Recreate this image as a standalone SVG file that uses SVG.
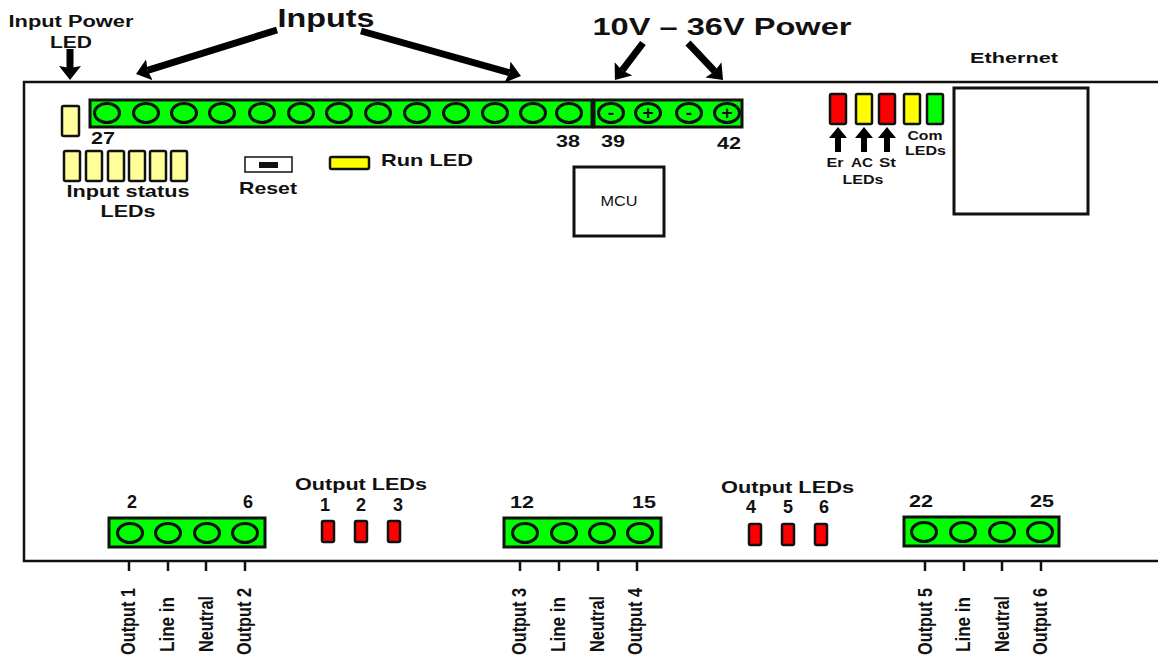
<svg xmlns="http://www.w3.org/2000/svg" width="1158" height="659" viewBox="0 0 1158 659">
<style>
text{font-family:"Liberation Sans",Arial,sans-serif;font-weight:700;fill:#111;text-anchor:middle}
.strip{fill:#00ff00;stroke:#111;stroke-width:3}
.hole ellipse{fill:#00ff00;stroke:#111;stroke-width:3;rx:12.5px;ry:9.5px}
.led{stroke:#111;stroke-width:2.5}
.pale{fill:#ffff99}.yel{fill:#ffff00}.red{fill:#ff0000}.grn{fill:#00ff00}
.box{fill:#fff;stroke:#111;stroke-width:3}
.wire{stroke:#111;stroke-width:2.5;fill:none}
.ar{stroke:#000;stroke-width:7;fill:none;marker-end:url(#ah)}
.ars{stroke:#000;stroke-width:6;fill:none;marker-end:url(#ahs)}
.n{font-size:17px}.s{font-size:13px}.v{font-size:20px}
.sign{font-size:19px}
</style>
<defs>
<marker id="ah" markerUnits="userSpaceOnUse" markerWidth="18" markerHeight="24" refX="2" refY="11" orient="auto"><path d="M0 0L14 11L0 22L2 11Z" fill="#000"/></marker>
<marker id="ahs" markerUnits="userSpaceOnUse" markerWidth="14" markerHeight="20" refX="1" refY="9" orient="auto"><path d="M0 0L11 9L0 18Z" fill="#000"/></marker>
</defs>
<g id="board"><path class="wire" d="M1158 82H24V561H1158"/></g>
<g id="connectors">
<path class="ar" d="M70 49V68"/>
<path class="ar" d="M277 30L147.500 70.400"/>
<path class="ar" d="M361 31L509.400 72.700"/>
<path class="ar" d="M643 43L622.200 70.400"/>
<path class="ar" d="M688 43L714.800 71.300"/>
<path class="ars" d="M838 152V137"/>
<path class="ars" d="M864 152V137"/>
<path class="ars" d="M887 152V137"/>
<path class="wire" d="M129 561V571M168 561V571M206 561V571M245 561V571M520 561V571M559 561V571M598 561V571M637 561V571M925 561V571M964 561V571M1002 561V571M1041 561V571"/>
</g>
<g id="power-led"><rect class="led pale" x="62" y="106" width="17" height="30" rx="1.500"/></g>
<g id="input-terminal">
<rect class="strip" x="90" y="100" width="502" height="27"/>
<g class="hole">
<ellipse cx="107" cy="113"/><ellipse cx="146" cy="113"/><ellipse cx="184" cy="113"/><ellipse cx="222" cy="113"/><ellipse cx="262" cy="113"/><ellipse cx="301" cy="113"/><ellipse cx="339" cy="113"/><ellipse cx="378" cy="113"/><ellipse cx="417" cy="113"/><ellipse cx="456" cy="113"/><ellipse cx="495" cy="113"/><ellipse cx="533" cy="113"/><ellipse cx="569" cy="113"/>
</g>
</g>
<g id="power-terminal">
<rect class="strip" x="594" y="100" width="148" height="27"/>
<g class="hole"><ellipse cx="611" cy="113"/><ellipse cx="648" cy="113"/><ellipse cx="689" cy="113"/><ellipse cx="727" cy="113"/></g>
<g class="sign"><text x="611" y="119">-</text><text x="648" y="119">+</text><text x="689" y="119">-</text><text x="727" y="119">+</text></g>
</g>
<g id="input-status-leds">
<rect class="led pale" x="64" y="151" width="16" height="30" rx="1.500"/><rect class="led pale" x="86" y="151" width="16" height="30" rx="1.500"/><rect class="led pale" x="108" y="151" width="16" height="30" rx="1.500"/><rect class="led pale" x="129" y="151" width="16" height="30" rx="1.500"/><rect class="led pale" x="150" y="151" width="16" height="30" rx="1.500"/><rect class="led pale" x="171" y="151" width="16" height="30" rx="1.500"/>
</g>
<g id="reset"><rect x="245" y="157" width="47" height="15" fill="#fff" stroke="#111" stroke-width="1.500"/><rect x="259" y="162" width="19" height="6" fill="#111"/></g>
<g id="run-led"><rect class="led yel" x="330" y="157" width="39" height="12" rx="1.500"/></g>
<g id="mcu"><rect class="box" x="574" y="167" width="90" height="69"/><text x="619" y="206" style="font-weight:400;font-size:14px" textLength="37" lengthAdjust="spacingAndGlyphs">MCU</text></g>
<g id="status-leds">
<rect class="led red" x="830" y="94" width="16" height="30" rx="1.500"/><rect class="led yel" x="856" y="94" width="16" height="30" rx="1.500"/><rect class="led red" x="879" y="94" width="16" height="30" rx="1.500"/><rect class="led yel" x="904" y="94" width="16" height="30" rx="1.500"/><rect class="led grn" x="927" y="94" width="16" height="30" rx="1.500"/>
</g>
<g id="ethernet"><rect class="box" x="954" y="88" width="134" height="126"/><text x="1014" y="63" style="font-size:15.500px" textLength="88" lengthAdjust="spacingAndGlyphs">Ethernet</text></g>
<g id="terminal-1"><rect class="strip" x="109" y="518" width="156" height="29"/><g class="hole"><ellipse cx="130" cy="533"/><ellipse cx="168" cy="533"/><ellipse cx="207" cy="533"/><ellipse cx="245" cy="533"/></g></g>
<g id="terminal-2"><rect class="strip" x="504" y="518" width="157" height="29"/><g class="hole"><ellipse cx="525" cy="533"/><ellipse cx="564" cy="533"/><ellipse cx="602" cy="533"/><ellipse cx="640" cy="533"/></g></g>
<g id="terminal-3"><rect class="strip" x="904" y="517" width="155" height="29"/><g class="hole"><ellipse cx="924" cy="532"/><ellipse cx="963" cy="532"/><ellipse cx="1002" cy="532"/><ellipse cx="1040" cy="532"/></g></g>
<g id="output-leds-a"><rect class="led red" x="322" y="521" width="12" height="21" rx="1.500"/><rect class="led red" x="355" y="521" width="12" height="21" rx="1.500"/><rect class="led red" x="388" y="521" width="12" height="21" rx="1.500"/></g>
<g id="output-leds-b"><rect class="led red" x="749" y="524" width="12" height="21" rx="1.500"/><rect class="led red" x="782" y="524" width="12" height="21" rx="1.500"/><rect class="led red" x="815" y="524" width="12" height="21" rx="1.500"/></g>
<g id="labels">
<text x="71" y="27" style="font-size:16px" textLength="125" lengthAdjust="spacingAndGlyphs">Input Power</text><text x="71" y="48" style="font-size:16px" textLength="42" lengthAdjust="spacingAndGlyphs">LED</text>
<text x="326" y="27" style="font-size:26px" textLength="97" lengthAdjust="spacingAndGlyphs">Inputs</text>
<text x="722" y="35" style="font-size:24px" textLength="259" lengthAdjust="spacingAndGlyphs">10V – 36V Power</text>
<text class="n" x="103" y="144" textLength="24" lengthAdjust="spacingAndGlyphs">27</text><text class="n" x="568" y="147" textLength="24" lengthAdjust="spacingAndGlyphs">38</text><text class="n" x="613" y="147" textLength="24" lengthAdjust="spacingAndGlyphs">39</text><text class="n" x="729" y="149" textLength="24" lengthAdjust="spacingAndGlyphs">42</text>
<text x="128" y="197" style="font-size:17px" textLength="123" lengthAdjust="spacingAndGlyphs">Input status</text><text x="128" y="217" style="font-size:17px" textLength="55" lengthAdjust="spacingAndGlyphs">LEDs</text>
<text x="268" y="194" style="font-size:17px" textLength="58" lengthAdjust="spacingAndGlyphs">Reset</text>
<text x="427" y="166" style="font-size:17px" textLength="92" lengthAdjust="spacingAndGlyphs">Run LED</text>
<text class="s" x="835" y="167" textLength="17" lengthAdjust="spacingAndGlyphs">Er</text><text class="s" x="862" y="167" textLength="22" lengthAdjust="spacingAndGlyphs">AC</text><text class="s" x="887.500" y="167" textLength="17" lengthAdjust="spacingAndGlyphs">St</text><text class="s" x="863" y="184" textLength="41" lengthAdjust="spacingAndGlyphs">LEDs</text>
<text class="s" x="925" y="140" textLength="35" lengthAdjust="spacingAndGlyphs">Com</text><text class="s" x="925.500" y="155" textLength="41" lengthAdjust="spacingAndGlyphs">LEDs</text>
<text x="361" y="490" style="font-size:17px" textLength="132" lengthAdjust="spacingAndGlyphs">Output LEDs</text><text x="787.500" y="493" style="font-size:17px" textLength="133" lengthAdjust="spacingAndGlyphs">Output LEDs</text>
<g class="n" style="font-size:18px">
<text x="325" y="511">1</text><text x="361" y="511">2</text><text x="398" y="511">3</text>
<text x="751" y="513">4</text><text x="788" y="513">5</text><text x="824" y="513">6</text>
<text x="132" y="508">2</text><text x="248" y="508">6</text>
</g>
<text class="n" x="522" y="508" textLength="24" lengthAdjust="spacingAndGlyphs">12</text><text class="n" x="644" y="508" textLength="24" lengthAdjust="spacingAndGlyphs">15</text>
<text class="n" x="921" y="507" textLength="24" lengthAdjust="spacingAndGlyphs">22</text><text class="n" x="1042" y="507" textLength="24" lengthAdjust="spacingAndGlyphs">25</text>
<g class="v">
<text transform="translate(135 621.500) rotate(-90)" textLength="67" lengthAdjust="spacingAndGlyphs">Output 1</text>
<text transform="translate(174 624.500) rotate(-90)" textLength="55" lengthAdjust="spacingAndGlyphs">Line in</text>
<text transform="translate(213 624) rotate(-90)" textLength="56" lengthAdjust="spacingAndGlyphs">Neutral</text>
<text transform="translate(251 621.500) rotate(-90)" textLength="67" lengthAdjust="spacingAndGlyphs">Output 2</text>
<text transform="translate(526 621.500) rotate(-90)" textLength="67" lengthAdjust="spacingAndGlyphs">Output 3</text>
<text transform="translate(565 624.500) rotate(-90)" textLength="55" lengthAdjust="spacingAndGlyphs">Line in</text>
<text transform="translate(604 624) rotate(-90)" textLength="56" lengthAdjust="spacingAndGlyphs">Neutral</text>
<text transform="translate(642 621.500) rotate(-90)" textLength="67" lengthAdjust="spacingAndGlyphs">Output 4</text>
<text transform="translate(932 621.500) rotate(-90)" textLength="67" lengthAdjust="spacingAndGlyphs">Output 5</text>
<text transform="translate(970 624.500) rotate(-90)" textLength="55" lengthAdjust="spacingAndGlyphs">Line in</text>
<text transform="translate(1009 624) rotate(-90)" textLength="56" lengthAdjust="spacingAndGlyphs">Neutral</text>
<text transform="translate(1047 621.500) rotate(-90)" textLength="67" lengthAdjust="spacingAndGlyphs">Output 6</text>
</g>
</g>
</svg>
